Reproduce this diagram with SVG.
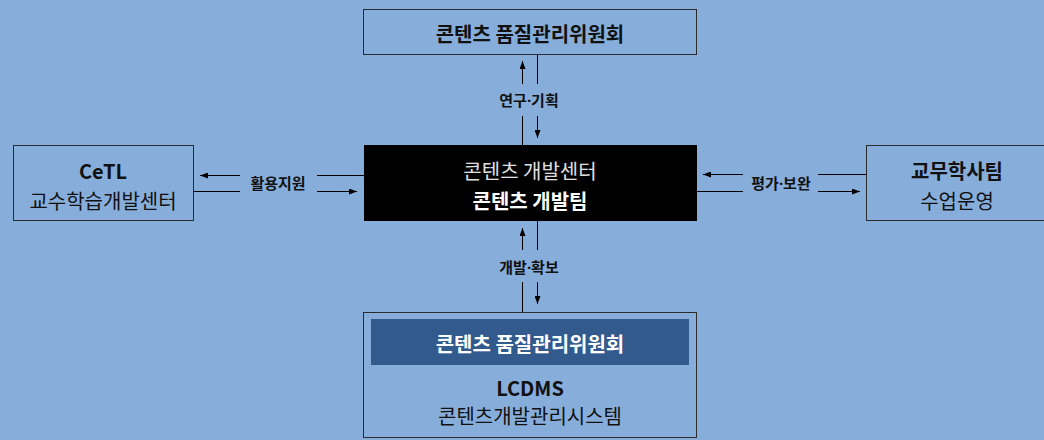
<svg xmlns="http://www.w3.org/2000/svg" width="1044" height="440" viewBox="0 0 1044 440">
<defs>
<style>
text{font-family:"Noto Sans CJK KR","Noto Sans",sans-serif;text-anchor:middle;dominant-baseline:central}
.box{fill:none;stroke:#2b2b2b;stroke-width:1}
.t{font-size:20px;fill:#111}
.b{font-weight:bold}
.lbl{font-family:"Noto Sans","Noto Sans CJK KR",sans-serif;font-size:15px;font-weight:bold;fill:#111}
.ln{stroke:#000;stroke-width:1;fill:none}
.ar{marker-end:url(#ah)}
</style>
<marker id="ah" viewBox="0 0 8 6" refX="8" refY="3" markerWidth="8" markerHeight="6" markerUnits="userSpaceOnUse" orient="auto">
<path d="M0,0 L8,3 L0,6 z" fill="#000"/>
</marker>
</defs>
<rect width="1044" height="440" fill="#87AEDB"/>
<g id="connectors">
<line class="ln ar" x1="522.5" y1="84" x2="522.5" y2="61"/>
<line class="ln" x1="522.5" y1="116" x2="522.5" y2="145"/>
<line class="ln" x1="537.5" y1="54" x2="537.5" y2="84"/>
<line class="ln ar" x1="537.5" y1="116" x2="537.5" y2="138"/>
<text class="lbl" x="529" y="100">연구·기획</text>
<line class="ln ar" x1="240" y1="175.5" x2="200" y2="175.5"/>
<line class="ln" x1="317" y1="175.5" x2="364" y2="175.5"/>
<line class="ln" x1="193" y1="191.5" x2="240" y2="191.5"/>
<line class="ln ar" x1="317" y1="191.5" x2="357" y2="191.5"/>
<text class="lbl" x="278" y="183">활용지원</text>
<line class="ln ar" x1="743" y1="174.5" x2="703" y2="174.5"/>
<line class="ln" x1="818" y1="174.5" x2="866" y2="174.5"/>
<line class="ln" x1="697" y1="191.5" x2="743" y2="191.5"/>
<line class="ln ar" x1="818" y1="191.5" x2="860" y2="191.5"/>
<text class="lbl" x="781" y="183">평가·보완</text>
<line class="ln ar" x1="522.5" y1="250" x2="522.5" y2="228"/>
<line class="ln" x1="522.5" y1="282" x2="522.5" y2="312"/>
<line class="ln" x1="537.5" y1="221" x2="537.5" y2="250"/>
<line class="ln ar" x1="537.5" y1="282" x2="537.5" y2="304"/>
<text class="lbl" x="529" y="267">개발·확보</text>
</g>
<g id="top-committee">
<rect class="box" x="363.5" y="9.5" width="333" height="45"/>
<text class="t b" x="530" y="33">콘텐츠 품질관리위원회</text>
</g>
<g id="center-team">
<rect x="364" y="145" width="333" height="76" fill="#000"/>
<text class="t" x="530" y="170" style="fill:#e0e0e0">콘텐츠 개발센터</text>
<text class="t b" x="530" y="200" style="fill:#fff">콘텐츠 개발팀</text>
</g>
<g id="cetl">
<rect class="box" x="13.5" y="145.5" width="180" height="75"/>
<text class="t b" x="103" y="170">CeTL</text>
<text class="t" x="103" y="200">교수학습개발센터</text>
</g>
<g id="academic">
<rect class="box" x="866.5" y="145.5" width="190" height="75"/>
<text class="t b" x="957" y="170">교무학사팀</text>
<text class="t" x="957" y="200">수업운영</text>
</g>
<g id="lcdms">
<rect class="box" x="363.5" y="312.5" width="333" height="125"/>
<rect x="371" y="319" width="318" height="46" fill="#335A8C"/>
<text class="t b" x="530" y="343" style="fill:#fff">콘텐츠 품질관리위원회</text>
<text class="t b" x="530" y="387">LCDMS</text>
<text class="t" x="530" y="415">콘텐츠개발관리시스템</text>
</g>
</svg>
